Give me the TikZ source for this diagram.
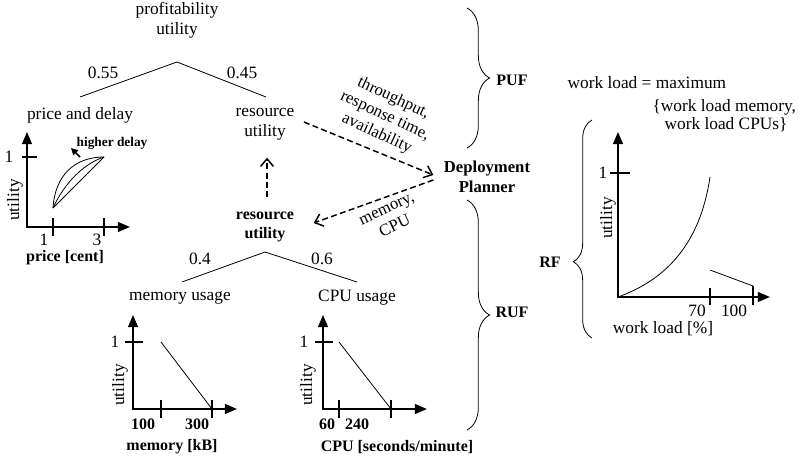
\documentclass[tikz,border=0pt]{standalone}
\usepackage{fontspec}
\setmainfont{Liberation Serif}
\usetikzlibrary{arrows.meta,positioning,calc,decorations.pathreplacing}
\tikzset{
  txt/.style={font=\fontsize{13}{15.2}\selectfont,align=center,inner sep=1pt},
  boldtxt/.style={txt,font=\fontsize{12}{14.3}\selectfont\bfseries},
  smallbold/.style={txt,font=\fontsize{10}{12}\selectfont\bfseries},
  slanted/.style={txt,font=\fontsize{12.5}{14.6}\selectfont},
  branch/.style={line width=0.6pt},
  axes/.style={{Triangle[length=3.2mm,width=2.6mm]}-{Triangle[length=3.2mm,width=2.6mm]},line width=1.3pt},
  tick/.style={line width=0.9pt},
  graph/.style={line width=0.6pt},
  flowarrow/.style={-{Straight Barb[length=2mm,width=3.4mm]},line width=1.1pt,dash pattern=on 4.5pt off 2.5pt},
  bracket/.style={decorate,decoration={brace,amplitude=#1},line width=0.6pt},
  bracket/.default=17pt
}

\begin{document}
\begin{tikzpicture}[x=0.75pt,y=-0.75pt]
  \useasboundingbox (0,0) rectangle (799,456);

  % upper tree: profitability utility
  \node[txt] (profit) at (177,20) {profitability\\utility};
  \coordinate (ptop) at (177,62);
  \coordinate (pleft) at (80,97);
  \coordinate (pright) at (266,97);
  \draw[branch] (pleft) -- (ptop) -- (pright);
  \node[txt] (w055) at (103,73) {0.55};
  \node[txt] (w045) at (242,73) {0.45};
  \node[txt] (price) at (80,115) {price and delay};
  \node[txt] (resup) at (265,124) {resource\\utility};

  % lower tree: resource utility
  \node[boldtxt] (reslow) at (265,227) {resource\\utility};
  \coordinate (rtop) at (265,252);
  \coordinate (rleft) at (182,282);
  \coordinate (rright) at (357,282);
  \draw[branch] (rleft) -- (rtop) -- (rright);
  \node[txt] (w04) at (200,259) {0.4};
  \node[txt] (w06) at (322,259) {0.6};
  \node[txt] (mem) at (180,298) {memory usage};
  \node[txt] (cpu) at (357,298) {CPU usage};

  % price and delay chart
  \draw[axes] (27,132) -- (27,227) -- (130,227);
  \draw[tick] (22,157) -- (37,157);
  \foreach \x in {53,104} \draw[tick] (\x,218) -- (\x,236);
  \draw[graph] (53,208) -- (104,157);
  \draw[graph] (53,208) .. controls (62,188) and (80,165) .. (104,157);
  \draw[graph] (53,208) .. controls (55,175) and (75,157) .. (104,157);
  \coordinate (dfrom) at (80,157);
  \coordinate (dto) at (71,148);
  \draw[-{Triangle[length=1.8mm,width=1.8mm]},line width=1.1pt] (dfrom) -- (dto);
  \node[smallbold] (delay) at (112,143) {higher delay};
  \node[txt] (p1) at (9,157) {1};
  \node[txt] (px1) at (44,240) {1};
  \node[txt] (px3) at (97,240) {3};
  \node[txt,rotate=90] (pu) at (15,200) {utility};
  \node[boldtxt] (pcent) at (65,258) {price [cent]};

  % memory usage chart
  \draw[axes] (133,315) -- (133,409) -- (237,409);
  \draw[tick] (125,342) -- (143,342);
  \foreach \x in {161,212} \draw[tick] (\x,400) -- (\x,418);
  \draw[graph] (161,342) -- (212,409);
  \node[txt] (m1) at (115,342) {1};
  \node[boldtxt] (m100) at (143,424) {100};
  \node[boldtxt] (m300) at (197,424) {300};
  \node[txt,rotate=90] (mu) at (120,385) {utility};
  \node[boldtxt] (mkb) at (172,447) {memory [kB]};

  % CPU usage chart
  \draw[axes] (323,315) -- (323,409) -- (427,409);
  \draw[tick] (315,342) -- (333,342);
  \foreach \x in {339,391} \draw[tick] (\x,400) -- (\x,418);
  \draw[graph] (339,342) -- (391,409);
  \node[txt] (c1) at (304,342) {1};
  \node[boldtxt] (c60) at (327,424) {60};
  \node[boldtxt] (c240) at (357,424) {240};
  \node[txt,rotate=90] (cu) at (308,385) {utility};
  \node[boldtxt] (csec) at (397,447) {CPU [seconds/minute]};

  % deployment planner and data flow
  \node[boldtxt,font=\fontsize{12.5}{15}\selectfont\bfseries] (planner) at (487,177) {Deployment\\Planner};
  \draw[flowarrow] ($(resup.east)+(8,-2)$) -- ($(planner.west)+(-9,-2)$);
  \draw[flowarrow] ($(planner.west)+(-9,3)$) -- ($(reslow.east)+(18,-4)$);
  \draw[flowarrow] ($(reslow.north)+(2,-13)$) -- ($(resup.south)+(2,16)$);
  \node[slanted,rotate=-25] (qos) at (385,116) {throughput,\\response time,\\availability};
  \node[slanted,rotate=25] (need) at (391,218) {memory,\\CPU};

  % braces
  \draw[bracket] (467,8) -- (467,148);
  \node[boldtxt] (puf) at (512,80) {PUF};
  \draw[bracket] (467,200) -- (467,430);
  \node[boldtxt] (ruf) at (512,312) {RUF};
  \draw[bracket=14pt,decoration={aspect=0.35}] (592,338) -- (592,120);
  \node[boldtxt] (rf) at (550,262) {RF};

  % work load definition
  \node[txt,anchor=west] (wl1) at (566,83) {work load = maximum};
  \node[txt,anchor=west] (wl2) at (651,107) {\{work load memory,};
  \node[txt,anchor=west] (wl3) at (663,125) {work load CPUs\}};

  % resource function chart
  \draw[axes] (618,132) -- (618,297) -- (770,297);
  \draw[tick] (610,173) -- (630,173);
  \draw[tick] (710,288) -- (710,305);
  \draw[tick] (753,286) -- (753,305);
  \draw[graph] (618,297) .. controls (665,280) and (700,245) .. (710,177);
  \draw[graph] (710,270) -- (753,286);
  \node[txt] (r1) at (603,173) {1};
  \node[txt] (r70) at (697,311) {70};
  \node[txt] (r100) at (734,311) {100};
  \node[txt,rotate=90] (ru) at (608,218) {utility};
  \node[txt] (rload) at (663,329) {work load [\%]};
\end{tikzpicture}
\end{document}
